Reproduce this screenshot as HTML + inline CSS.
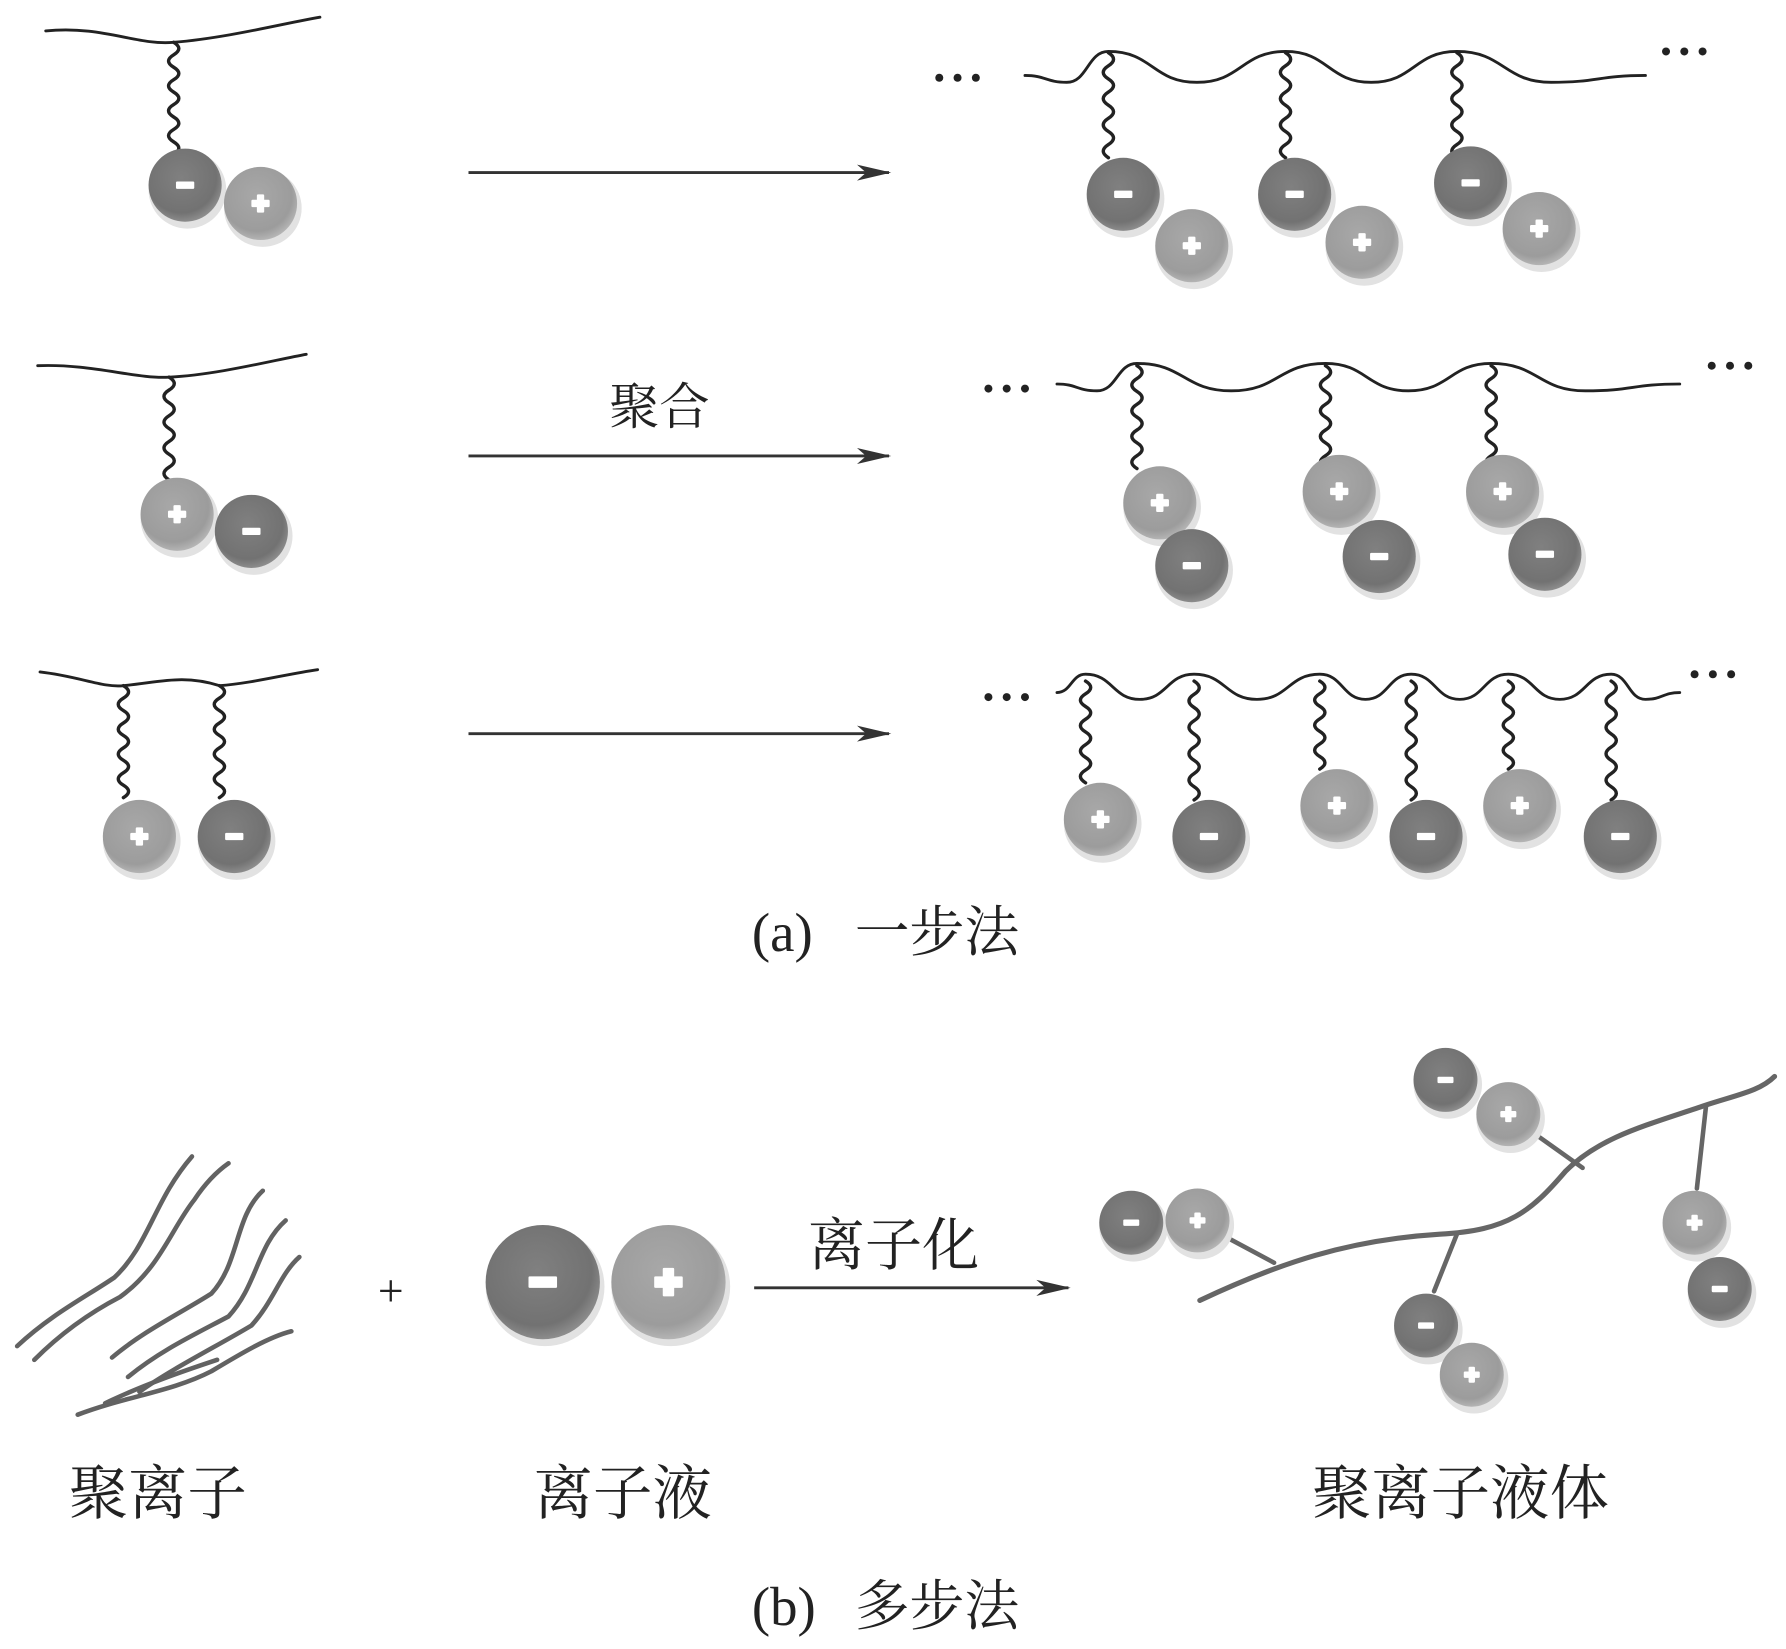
<!DOCTYPE html>
<html><head><meta charset="utf-8"><style>
html,body{margin:0;padding:0;background:#fff;}
svg{display:block;}
text{font-family:"Liberation Serif","Noto Serif CJK SC","Noto Sans CJK SC",serif;fill:#222;}
</style></head><body>
<svg id="s" width="1786" height="1649" viewBox="0 0 1563 1443" xmlns="http://www.w3.org/2000/svg">
<defs>
<radialGradient id="gm" cx="0.45" cy="0.4" r="0.6"><stop offset="0" stop-color="#808080"/><stop offset="0.8" stop-color="#727272"/><stop offset="1" stop-color="#8c8c8c"/></radialGradient>
<radialGradient id="gp" cx="0.45" cy="0.4" r="0.6"><stop offset="0" stop-color="#a8a8a8"/><stop offset="0.8" stop-color="#9c9c9c"/><stop offset="1" stop-color="#b4b4b4"/></radialGradient>
<marker id="ar" markerWidth="30" markerHeight="16" refX="28" refY="8" orient="auto" markerUnits="userSpaceOnUse"><path d="M0,1 L30,8 L0,15 L8,8 Z" fill="#333"/></marker>
</defs>
<g id="g" stroke-linecap="round"></g>
<g stroke="#333" stroke-width="2.5">
<line x1="410" y1="151" x2="778" y2="151" marker-end="url(#ar)"/>
<line x1="410" y1="399" x2="778" y2="399" marker-end="url(#ar)"/>
<line x1="410" y1="642" x2="778" y2="642" marker-end="url(#ar)"/>
<line x1="660" y1="1127" x2="935" y2="1127" marker-end="url(#ar)"/>
</g>
<text x="577" y="371" font-size="44" text-anchor="middle">聚合</text>
<text x="658" y="832" font-size="48">(a)</text><text x="748" y="832" font-size="48">一步法</text>
<text x="782" y="1107" font-size="50" text-anchor="middle">离子化</text>
<text x="342" y="1143" font-size="40" text-anchor="middle">+</text>
<text x="138" y="1325" font-size="52" text-anchor="middle">聚离子</text>
<text x="545" y="1325" font-size="52" text-anchor="middle">离子液</text>
<text x="1278" y="1325" font-size="52" text-anchor="middle">聚离子液体</text>
<text x="658" y="1422" font-size="48">(b)</text><text x="748" y="1422" font-size="48">多步法</text>
</svg>
<script>
var g=document.getElementById('g'),NS="http://www.w3.org/2000/svg";
function el(t,a){var e=document.createElementNS(NS,t);for(var k in a)e.setAttribute(k,a[k]);g.appendChild(e);return e;}
function path(d,w,c){el('path',{d:d,fill:'none',stroke:c||'#222','stroke-width':w||2.5});}
function sq(x,y1,y2){var n=Math.max(2,Math.round((y2-y1)/11)),h=(y2-y1)/n,d='M'+x+','+y1;for(var i=0;i<n;i++){var s=(i%2?-1:1)*9;d+=' Q'+(x+s)+','+(y1+h*(i+0.5))+' '+x+','+(y1+h*(i+1));}path(d,3);}
function ball(x,y,plus,r){r=r||32;el('circle',{cx:x+2,cy:y+4,r:r+2,fill:'#e2e2e2'});el('circle',{cx:x,cy:y,r:r,fill:plus?'url(#gp)':'url(#gm)'});var w=r*0.5,t=r*0.2;el('rect',{x:x-w/2,y:y-t/2,width:w,height:t,fill:'#fff',rx:1});if(plus)el('rect',{x:x-t/2,y:y-w/2,width:t,height:w,fill:'#fff',rx:1});}
function dots(x,y){for(var i=0;i<3;i++)el('circle',{cx:x+i*16,cy:y,r:3.5,fill:'#222'});}
function wave(x1,x2,yp,yt,peaks){var pts=[[x1,yt-6]];var p0=peaks[0];if(p0-x1>40)pts.push([(x1+p0)/2,yt]);for(var i=0;i<peaks.length;i++){if(i)pts.push([(peaks[i-1]+peaks[i])/2,yt]);pts.push([peaks[i],yp]);}var last=peaks[peaks.length-1];pts.push([(last+x2)/2,yt]);pts.push([x2,yt-6]);var d='M'+pts[0][0]+','+pts[0][1];for(var j=1;j<pts.length;j++){var a=pts[j-1],b=pts[j],dx=(b[0]-a[0])/2;d+=' C'+(a[0]+dx)+','+a[1]+' '+(b[0]-dx)+','+b[1]+' '+b[0]+','+b[1];}path(d,2.5);}
// Row1
path('M40,27 C90,22 120,40 152,37 C200,33 250,20 280,15');sq(152,37,135);ball(162,162,0);ball(228,178,1);
dots(822,68);wave(897,1440,45,72,[970,1125,1275]);dots(1458,45);
[[970,983,170,1043,215],[1125,1133,170,1192,212],[1275,1287,160,1347,200]].forEach(function(a){sq(a[0],46,138);ball(a[1],a[2],0);ball(a[3],a[4],1);});
// Row2
path('M33,320 C80,318 120,332 148,330 C190,328 240,315 268,310');sq(148,330,420);ball(155,450,1);ball(220,465,0);
dots(865,340);wave(925,1470,318,342,[995,1160,1305]);dots(1498,320);
[[995,1015,440,1043,495],[1160,1172,430,1207,487],[1305,1315,430,1352,485]].forEach(function(a){sq(a[0],320,410);ball(a[1],a[2],1);ball(a[3],a[4],0);});
// Row3
path('M35,588 C70,592 90,602 108,600 C140,597 160,590 192,600 C220,598 250,590 278,586');sq(108,600,698);sq(192,600,698);ball(122,732,1);ball(205,732,0);
dots(865,610);wave(925,1470,590,612,[950,1045,1155,1235,1320,1410]);dots(1483,590);
[[950,963,717,1],[1045,1058,732,0],[1155,1170,705,1],[1235,1248,732,0],[1320,1330,705,1],[1410,1418,732,0]].forEach(function(a){sq(a[0],596,a[2]-32);ball(a[1],a[2],a[3]);});
var sc='#626262';
['M15,1178 C45,1150 75,1135 100,1118 C130,1090 135,1050 168,1012',
 'M30,1190 C55,1165 80,1148 105,1135 C140,1110 150,1075 170,1050 C180,1035 190,1025 200,1018',
 'M98,1188 C125,1165 160,1148 185,1132 C210,1105 205,1065 230,1042',
 'M112,1205 C140,1182 170,1168 200,1152 C225,1125 225,1090 250,1068',
 'M122,1218 C150,1198 190,1178 220,1160 C240,1138 245,1115 262,1100',
 'M68,1238 C110,1222 150,1218 185,1200 C210,1185 235,1170 255,1165',
 'M92,1228 C125,1212 160,1200 190,1190'
].forEach(function(d){path(d,4,sc);});
ball(475,1122,0,50);ball(585,1122,1,50);
path('M1050,1138 C1120,1105 1180,1085 1260,1080 C1320,1077 1340,1060 1370,1025 C1400,995 1440,985 1490,968 C1520,958 1540,955 1553,942',4.5,'#666');
[['1115,1105','1072,1082'],['1275,1080','1255,1130'],['1385,1022','1340,990'],['1493,968','1485,1040']].forEach(function(l){var a=l[0].split(','),b=l[1].split(',');el('line',{x1:a[0],y1:a[1],x2:b[0],y2:b[1],stroke:'#666','stroke-width':4});});
ball(1265,945,0,28);ball(1320,975,1,28);ball(990,1070,0,28);ball(1048,1068,1,28);
ball(1248,1160,0,28);ball(1288,1203,1,28);ball(1483,1070,1,28);ball(1505,1128,0,28);
</script>
</body></html>
